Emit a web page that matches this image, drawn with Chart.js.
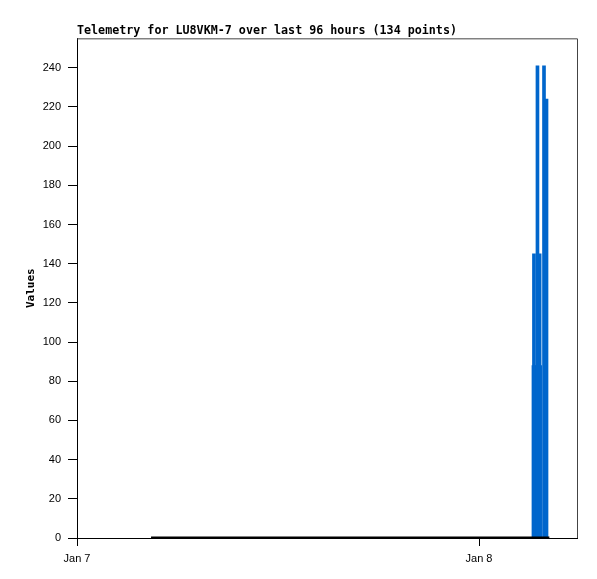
<!DOCTYPE html>
<html>
<head>
<meta charset="utf-8">
<script src="https://cdn.jsdelivr.net/npm/chart.js@4"></script>
<style>
  html, body { margin: 0; padding: 0; background: #fff; }
  #wrap { width: 597px; height: 579px; }
</style>
</head>
<body>
<div id="wrap"><canvas id="grafico"></canvas></div>
<script>
// horas desde Jan 7 00:00
const horas = [27.28, 27.49, 27.62, 27.88, 28.03];
const canalA = [145, 241, 145, 241, 224];
const canalB = [88, 88, 88, null, null];
const horasZero = [4.42, 28.2];
const canalZero = [0, 0];
const yTicks = [0, 20, 40, 60, 80, 100, 120, 140, 160, 180, 200, 220, 240];
const xTicks = [0, 24];
const xLabels = ["Jan 7", "Jan 8"];

const azul = 'rgb(0, 102, 204)';

function pontos(xs, ys) {
  return xs.map((x, i) => ({ x: x, y: ys[i] }));
}

// moldura em volta da área do gráfico
const moldura = {
  id: 'moldura',
  afterDraw(chart) {
    const { ctx, chartArea: a } = chart;
    ctx.save();
    ctx.strokeStyle = '#444';
    ctx.lineWidth = 1;
    ctx.beginPath();
    ctx.moveTo(a.left, a.top + 0.5);
    ctx.lineTo(a.right + 0.5, a.top + 0.5);
    ctx.lineTo(a.right + 0.5, a.bottom);
    ctx.stroke();
    ctx.restore();
  }
};

new Chart(document.getElementById('grafico'), {
  type: 'bar',
  data: {
    datasets: [
      {
        type: 'line',
        label: 'zero',
        data: pontos(horasZero, canalZero),
        borderColor: '#000',
        borderWidth: 3,
        pointRadius: 0,
        order: 0
      },
      {
        label: 'A',
        data: pontos(horas, canalA),
        backgroundColor: azul,
        barThickness: 3,
        grouped: false,
        order: 1
      },
      {
        label: 'B',
        data: pontos(horas, canalB),
        backgroundColor: azul,
        barThickness: 4,
        grouped: false,
        order: 2
      }
    ]
  },
  options: {
    responsive: true,
    maintainAspectRatio: false,
    animation: false,
    layout: { padding: { top: 24.3, right: 20, bottom: 0, left: 0 } },
    plugins: {
      legend: { display: false },
      tooltip: { enabled: false },
      title: {
        display: true,
        text: 'Telemetry for LU8VKM-7 over last 96 hours (134 points)',
        align: 'start',
        fullSize: false,
        color: '#000',
        font: { family: 'DejaVu Sans Mono', size: 11.7, weight: 'bold', lineHeight: 1.2 },
        padding: { top: 0, bottom: 0 }
      }
    },
    scales: {
      x: {
        type: 'linear',
        min: 0,
        max: 29.85,
        offset: false,
        grid: { offset: false, drawOnChartArea: false, drawTicks: true, tickLength: 8, color: '#000' },
        border: { color: '#000', width: 1 },
        afterBuildTicks: s => { s.ticks = xTicks.map(v => ({ value: v })); },
        ticks: {
          color: '#000',
          font: { family: 'Liberation Sans', size: 11 },
          padding: 6,
          maxRotation: 0,
          callback: v => xLabels[xTicks.indexOf(v)]
        },
        afterFit: s => { s.height = 41; }
      },
      y: {
        min: 0,
        max: 255,
        grid: { drawOnChartArea: false, drawTicks: true, tickLength: 9, color: '#000' },
        border: { color: '#000', width: 1 },
        afterBuildTicks: s => { s.ticks = yTicks.map(v => ({ value: v })); },
        ticks: {
          color: '#000',
          font: { family: 'Liberation Sans', size: 11 },
          padding: 7
        },
        title: {
          display: true,
          text: 'Values',
          color: '#000',
          font: { family: 'DejaVu Sans Mono', size: 11, weight: 'bold', lineHeight: 1.2 },
          padding: { top: 25, bottom: 0 }
        },
        afterFit: s => { s.width = 77; }
      }
    }
  },
  plugins: [moldura]
});
</script>
</body>
</html>
